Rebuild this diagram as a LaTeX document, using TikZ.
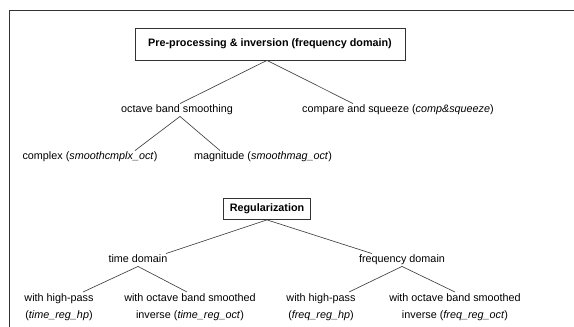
\documentclass[tikz,border=0pt]{standalone}
\usepackage{fontspec}
\setmainfont{Liberation Sans}
\begin{document}
\begin{tikzpicture}[x=1pt, y=-1pt, font=\fontsize{10.8}{13}\selectfont,
    titlebox/.style={draw=black!80, line width=0.8pt, inner sep=0pt, font=\fontsize{10.8}{13}\selectfont\bfseries},
    leaf/.style={inner sep=1pt, text height=8pt, text depth=2.5pt},
    pair/.style={inner sep=1pt, align=center, anchor=north, font=\fontsize{10.8}{17.5}\selectfont},
    branch/.style={draw=black!75, line width=0.65pt}]
    \useasboundingbox (0,0) rectangle (574,327);
    \draw[black!80, line width=0.8pt] (574,10.5) -- (9.5,10.5) -- (9.5,327);

    % pre-processing tree
    \node[titlebox, minimum width=270pt, minimum height=32pt] (pre) at (270,44) {Pre-processing \& inversion (frequency domain)};
    \node[leaf] (smooth) at (177,110) {octave band smoothing};
    \node[leaf] (comp) at (398,110) {compare and squeeze (\textit{comp\&squeeze})};
    \node[leaf] (cplx) at (90,157) {complex (\textit{smoothcmplx\_oct})};
    \node[leaf] (mag) at (263,157) {magnitude (\textit{smoothmag\_oct})};

    \draw[branch] ([xshift=-3pt]pre.south) -- ([xshift=3pt]smooth.north);
    \draw[branch] ([xshift=-3pt]pre.south) -- ([xshift=-45pt]comp.north);
    \draw[branch] ([xshift=3pt]smooth.south) -- ([xshift=45pt]cplx.north);
    \draw[branch] ([xshift=3pt]smooth.south) -- ([xshift=-43pt]mag.north);

    % regularization tree
    \node[titlebox, minimum width=87pt, minimum height=21pt] (reg) at (267,209) {Regularization};
    \node[leaf] (time) at (138,260) {time domain};
    \node[leaf] (freq) at (402,260) {frequency domain};
    \node[pair] (timehp) at (59,292) {with high-pass\\(\textit{time\_reg\_hp})};
    \node[pair] (timeoct) at (190,292) {with octave band smoothed\\inverse (\textit{time\_reg\_oct})};
    \node[pair] (freqhp) at (321,292) {with high-pass\\(\textit{freq\_reg\_hp})};
    \node[pair] (freqoct) at (455,292) {with octave band smoothed\\inverse (\textit{freq\_reg\_oct})};

    \draw[branch] (reg.south) -- ([xshift=28pt]time.north);
    \draw[branch] (reg.south) -- ([xshift=-30pt]freq.north);
    \draw[branch] (time.south) -- ([xshift=24pt]timehp.north);
    \draw[branch] (time.south) -- ([xshift=-3pt]timeoct.north);
    \draw[branch] (freq.south) -- ([xshift=28pt]freqhp.north);
    \draw[branch] (freq.south) -- (freqoct.north);
\end{tikzpicture}
\end{document}
